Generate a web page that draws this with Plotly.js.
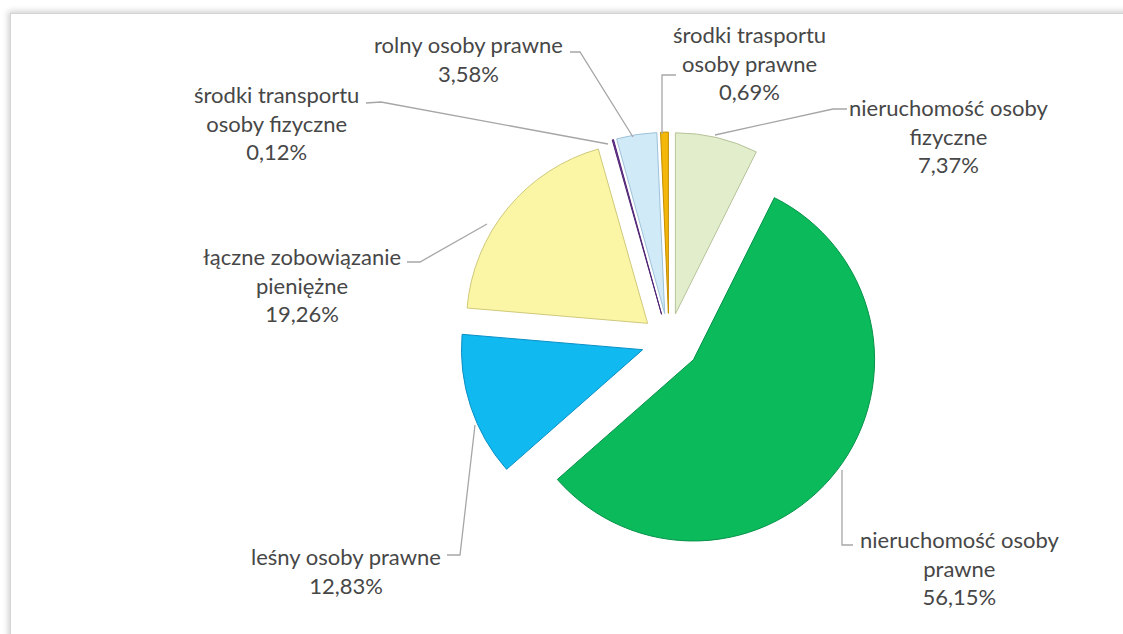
<!DOCTYPE html>
<html>
<head>
<meta charset="utf-8">
<script src="https://cdn.plot.ly/plotly-3.0.1.min.js"></script>
<style>
  html, body { margin: 0; padding: 0; background: #ffffff; overflow: hidden; }
  #frame { position: absolute; left: 10px; top: 13px; width: 1200px; height: 700px;
           border: 1px solid #d4d4d4; box-shadow: -2px -2px 6px rgba(0,0,0,0.18); background: #fff; }
  #chart { position: absolute; left: 0; top: 0; width: 1123px; height: 634px; }
</style>
</head>
<body>
<div id="frame"></div>
<div id="chart"></div>
<script>
// ---- data ----
const categories = [
  'nieruchomość osoby fizyczne',
  'nieruchomość osoby prawne',
  'leśny osoby prawne',
  'łączne zobowiązanie pieniężne',
  'środki transportu osoby fizyczne',
  'rolny osoby prawne',
  'środki trasportu osoby prawne'
];
const shares = [7.37, 56.15, 12.83, 19.26, 0.12, 3.58, 0.69];
// wrapped label lines as shown on the chart
const labelLines = [
  ['nieruchomość osoby', 'fizyczne'],
  ['nieruchomość osoby', 'prawne'],
  ['leśny osoby prawne'],
  ['łączne zobowiązanie', 'pieniężne'],
  ['środki transportu', 'osoby fizyczne'],
  ['rolny osoby prawne'],
  ['środki trasportu', 'osoby prawne']
];

// ---- styles / layout positions ----
const colors = ['#e2eecb', '#0bba5b', '#10b9f0', '#fbf6a5', '#7a3fa8', '#d0eaf8', '#f3b70a'];
const edgeColors = ['#b7c39a', '#07934a', '#0a8fc4', '#cfc97a', '#4e2472', '#9fc2d8', '#c48d00'];
const pulls = [0.153, 0.17, 0.153, 0.153, 0.153, 0.153, 0.153];
const W = 1123, H = 634;
// label block centres (px) and leader polylines (px)
const labelPos = [[948, 136], [959, 568], [346, 571], [302, 285], [276, 123], [468, 59], [749, 63]];
const leaders = [
  [[715, 135], [833, 109], [847, 109]],
  [[842, 470], [842, 545], [853, 545]],
  [[475, 425], [460, 555], [447, 555]],
  [[487, 224], [420, 262], [407, 262]],
  [[608, 144], [381, 102], [366, 103]],
  [[633, 137], [580, 52], [570, 52]],
  [[662, 134], [662, 75], [676, 75]]
];

const px = x => x / W;
const py = y => 1 - y / H;
const fmt = v => v.toFixed(2).replace('.', ',') + '%';

const annotations = categories.map((c, i) => ({
  xref: 'paper', yref: 'paper',
  x: px(labelPos[i][0]), y: py(labelPos[i][1]),
  xanchor: 'center', yanchor: 'middle', align: 'center',
  showarrow: false,
  text: labelLines[i].concat([fmt(shares[i])]).join('<br>'),
  font: { family: 'Lato, "Open Sans", sans-serif', size: 22, color: '#474747' }
}));

const shapes = leaders.map(pts => ({
  type: 'path', xref: 'paper', yref: 'paper',
  path: pts.map((p, k) => (k ? 'L' : 'M') + px(p[0]) + ',' + py(p[1])).join(' '),
  line: { color: '#a6a6a6', width: 1.3 }
}));

const trace = {
  type: 'pie',
  labels: categories,
  values: shares,
  sort: false,
  direction: 'clockwise',
  rotation: 0,
  pull: pulls,
  textinfo: 'none',
  hoverinfo: 'label+percent',
  marker: { colors: colors, line: { color: edgeColors, width: 1 } },
  domain: { x: [457 / W, 881 / W], y: [1 - 553 / H, 1 - 129 / H] },
  showlegend: false
};

Plotly.newPlot('chart', [trace], {
  width: W, height: H,
  margin: { l: 0, r: 0, t: 0, b: 0 },
  paper_bgcolor: 'rgba(0,0,0,0)',
  plot_bgcolor: 'rgba(0,0,0,0)',
  showlegend: false,
  annotations: annotations,
  shapes: shapes
}, { displayModeBar: false, staticPlot: true });
</script>
</body>
</html>
